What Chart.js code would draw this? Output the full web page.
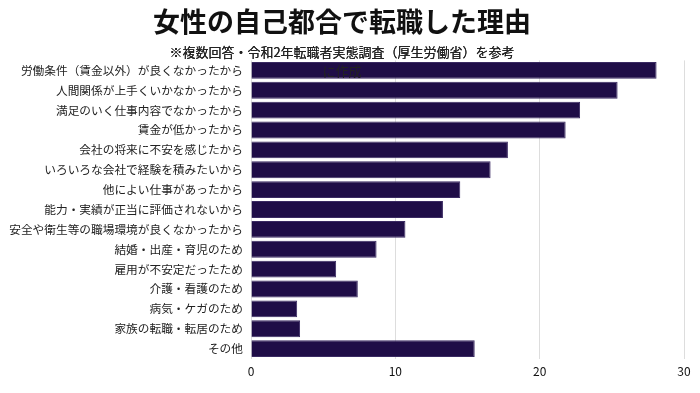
<!DOCTYPE html>
<html lang="ja">
<head>
<meta charset="utf-8">
<script src="https://cdn.jsdelivr.net/npm/chart.js@4/dist/chart.umd.min.js"></script>
<style>
  html, body { margin: 0; padding: 0; background: #fff; }
  #wrap { width: 700px; height: 393px; }
</style>
</head>
<body>
<div id="wrap"><canvas id="reasonChart" width="700" height="393"></canvas></div>
<script>
// 転職理由（女性・自己都合）
const reasons = [
    '労働条件（賃金以外）が良くなかったから',
    '人間関係が上手くいかなかったから',
    '満足のいく仕事内容でなかったから',
    '賃金が低かったから',
    '会社の将来に不安を感じたから',
    'いろいろな会社で経験を積みたいから',
    '他によい仕事があったから',
    '能力・実績が正当に評価されないから',
    '安全や衛生等の職場環境が良くなかったから',
    '結婚・出産・育児のため',
    '雇用が不安定だったため',
    '介護・看護のため',
    '病気・ケガのため',
    '家族の転職・転居のため',
    'その他'
];
const percents = [28.1, 25.4, 22.8, 21.8, 17.8, 16.6, 14.5, 13.3, 10.7, 8.7, 5.9, 7.4, 3.2, 3.4, 15.5];
const xTicks = [0, 10, 20, 30];

const titleText = '女性の自己都合で転職した理由';
const subtitleLines = ['※複数回答・令和2年転職者実態調査（厚生労働省）を参考', 'に作成'];

const fontFamily = '"Noto Sans CJK JP", "Noto Sans", sans-serif';

// サブタイトルの2行目は棒の上に重なって描かれている
const subtitleOnTop = {
    id: 'subtitleOnTop',
    afterDatasetsDraw(chart) {
        const box = chart.boxes.find(b => b.options && b.options.text === subtitleLines);
        if (box) box.draw(chart.chartArea);
    }
};

const ctx = document.getElementById('reasonChart').getContext('2d');
const reasonChart = new Chart(ctx, {
    type: 'bar',
    data: {
        labels: reasons,
        datasets: [{
            label: '割合',
            data: percents,
            backgroundColor: '#1f0d47',
            borderColor: '#3a2a62',
            borderWidth: 1,
            barPercentage: 0.92,
            categoryPercentage: 0.92
        }]
    },
    options: {
        indexAxis: 'y',
        responsive: false,
        animation: false,
        layout: {
            padding: { left: 0, right: 16, top: 0, bottom: 8 }
        },
        plugins: {
            legend: { display: false },
            tooltip: { enabled: false },
            title: {
                display: true,
                text: titleText,
                color: '#111',
                font: { family: fontFamily, size: 27, weight: 'bold', lineHeight: 1.2 },
                padding: { top: 6, bottom: 2 }
            },
            subtitle: {
                display: true,
                text: subtitleLines,
                color: '#222',
                font: { family: fontFamily, size: 13, weight: 'normal', lineHeight: 1.45 },
                padding: { top: 2, bottom: -19.7 }
            }
        },
        scales: {
            x: {
                min: 0,
                max: 30,
                afterBuildTicks: (scale) => {
                    scale.ticks = xTicks.map(v => ({ value: v }));
                },
                grid: { color: '#dddddd', drawTicks: false },
                border: { display: false },
                ticks: {
                    color: '#111',
                    padding: 6,
                    font: { family: fontFamily, size: 12 }
                }
            },
            y: {
                grid: { display: false, drawTicks: false },
                border: { display: false },
                afterFit: (scale) => { scale.width = 251; },
                ticks: {
                    color: '#222',
                    padding: 8,
                    autoSkip: false,
                    font: { family: fontFamily, size: 11.7 }
                }
            }
        }
    },
    plugins: [subtitleOnTop]
});
</script>
</body>
</html>
